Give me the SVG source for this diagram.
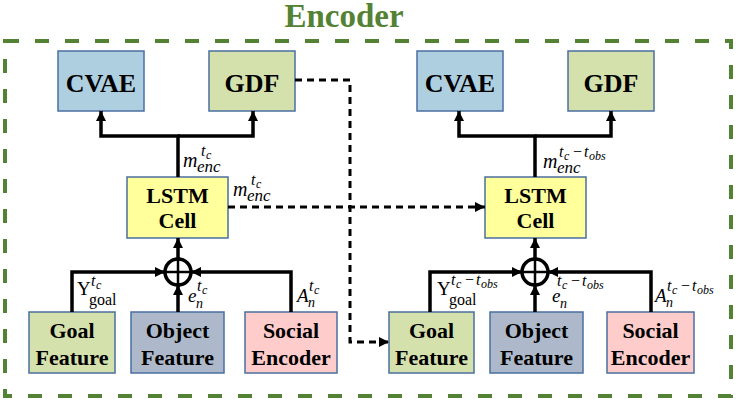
<svg xmlns="http://www.w3.org/2000/svg" width="738" height="400" viewBox="0 0 738 400">
<style>
.box{stroke:#4a6fa0;stroke-width:1.5}
.lbl{font-family:"Liberation Serif",serif;font-weight:bold;font-size:22px;fill:#000;text-anchor:middle}
.big{font-size:26px}
.conn{fill:none;stroke:#000;stroke-width:3.5}
.dash{fill:none;stroke:#000;stroke-width:3;stroke-dasharray:7 5}
.m{font-family:"Liberation Serif",serif;font-style:italic;fill:#000}
.up{font-style:normal}
</style>
<defs>
<marker id="ah" viewBox="0 0 10 10" refX="10" refY="5" markerWidth="10" markerHeight="10" markerUnits="userSpaceOnUse" orient="auto">
<path d="M0,0 L10,5 L0,10 z" fill="#000"/>
</marker>
</defs>
<rect width="738" height="400" fill="#fff"/>
<text x="344" y="27" font-family="Liberation Serif,serif" font-weight="bold" font-size="33" fill="#548235" text-anchor="middle">Encoder</text>
<rect x="5" y="41" width="726" height="355" fill="none" stroke="#548235" stroke-width="4" stroke-dasharray="14 16"/>

<g id="cvae1"><rect class="box" x="58" y="51" width="86" height="60" fill="#aecfe0"/><text class="lbl big" x="101" y="92">CVAE</text></g>
<g id="gdf1"><rect class="box" x="209" y="51" width="86" height="60" fill="#d5e1ad"/><text class="lbl big" x="252" y="92">GDF</text></g>
<g id="cvae2"><rect class="box" x="417" y="51" width="86" height="60" fill="#aecfe0"/><text class="lbl big" x="460" y="92">CVAE</text></g>
<g id="gdf2"><rect class="box" x="568" y="51" width="86" height="60" fill="#d5e1ad"/><text class="lbl big" x="611" y="92">GDF</text></g>

<g id="lstm1"><rect class="box" x="127" y="177" width="101" height="61" fill="#ffff9c"/><text class="lbl" x="177.5" y="203">LSTM</text><text class="lbl" x="177.5" y="228">Cell</text></g>
<g id="lstm2"><rect class="box" x="485" y="177" width="101" height="61" fill="#ffff9c"/><text class="lbl" x="535.5" y="203">LSTM</text><text class="lbl" x="535.5" y="228">Cell</text></g>

<g id="goal1"><rect class="box" x="29" y="312" width="86" height="61" fill="#d5e1ad"/><text class="lbl" x="72" y="338">Goal</text><text class="lbl" x="72" y="365">Feature</text></g>
<g id="obj1"><rect class="box" x="131" y="312" width="93" height="61" fill="#adb9ca"/><text class="lbl" x="177.5" y="338">Object</text><text class="lbl" x="177.5" y="365">Feature</text></g>
<g id="soc1"><rect class="box" x="245" y="312" width="92" height="61" fill="#ffcccc"/><text class="lbl" x="291" y="338">Social</text><text class="lbl" x="291" y="365">Encoder</text></g>

<g id="goal2"><rect class="box" x="389" y="312" width="85" height="61" fill="#d5e1ad"/><text class="lbl" x="431.5" y="338">Goal</text><text class="lbl" x="431.5" y="365">Feature</text></g>
<g id="obj2"><rect class="box" x="490" y="312" width="93" height="61" fill="#adb9ca"/><text class="lbl" x="536.5" y="338">Object</text><text class="lbl" x="536.5" y="365">Feature</text></g>
<g id="soc2"><rect class="box" x="607" y="312" width="87" height="61" fill="#ffcccc"/><text class="lbl" x="650.5" y="338">Social</text><text class="lbl" x="650.5" y="365">Encoder</text></g>

<g id="sum1"><circle cx="178" cy="272" r="13" fill="#fff" stroke="#000" stroke-width="3.5"/><path d="M165,272 H191 M178,259 V285" stroke="#000" stroke-width="2.5"/></g>
<g id="sum2"><circle cx="535" cy="272" r="13" fill="#fff" stroke="#000" stroke-width="3.5"/><path d="M522,272 H548 M535,259 V285" stroke="#000" stroke-width="2.5"/></g>

<g id="connectors">
<path class="conn" d="M178,177 V136 H101 V111" marker-end="url(#ah)"/>
<path class="conn" d="M178,136 H253 V111" marker-end="url(#ah)"/>
<path class="conn" d="M535,177 V136 H459 V111" marker-end="url(#ah)"/>
<path class="conn" d="M535,136 H611 V111" marker-end="url(#ah)"/>
<path class="conn" d="M178,259 V238" marker-end="url(#ah)"/>
<path class="conn" d="M535,259 V238" marker-end="url(#ah)"/>
<path class="conn" d="M72,312 V272 H165" marker-end="url(#ah)"/>
<path class="conn" d="M178,312 V285" marker-end="url(#ah)"/>
<path class="conn" d="M291,312 V272 H191" marker-end="url(#ah)"/>
<path class="conn" d="M430,312 V272 H522" marker-end="url(#ah)"/>
<path class="conn" d="M535,312 V285" marker-end="url(#ah)"/>
<path class="conn" d="M651,312 V272 H548" marker-end="url(#ah)"/>
<path class="dash" d="M228,207 H485" marker-end="url(#ah)"/>
<path class="dash" d="M295,80 H350 V342 H389" marker-end="url(#ah)"/>
</g>

<g id="labels">
<text class="m"><tspan x="183" y="167" font-size="20">m</tspan><tspan x="197" y="172" font-size="17">enc</tspan><tspan x="201" y="156" font-size="16">t</tspan><tspan x="206" y="159" font-size="12">c</tspan></text>
<text class="m"><tspan x="233" y="196" font-size="20">m</tspan><tspan x="247" y="201" font-size="17">enc</tspan><tspan x="251" y="185" font-size="16">t</tspan><tspan x="256" y="188" font-size="12">c</tspan></text>
<text class="m"><tspan x="543" y="168" font-size="20">m</tspan><tspan x="557" y="173" font-size="17">enc</tspan><tspan x="559" y="157" font-size="16">t</tspan><tspan x="564" y="160" font-size="12">c</tspan><tspan x="572" y="157" font-size="16">−</tspan><tspan x="584" y="157" font-size="16">t</tspan><tspan x="589" y="160" font-size="12">obs</tspan></text>

<text class="m"><tspan class="up" x="77" y="295" font-size="19">Y</tspan><tspan class="up" x="89" y="305" font-size="16">goal</tspan><tspan x="91" y="286" font-size="16">t</tspan><tspan x="96" y="289" font-size="12">c</tspan></text>
<text class="m"><tspan x="188" y="302" font-size="19">e</tspan><tspan x="196" y="308" font-size="14">n</tspan><tspan x="197" y="291" font-size="16">t</tspan><tspan x="202" y="294" font-size="12">c</tspan></text>
<text class="m"><tspan x="297" y="302" font-size="19">A</tspan><tspan x="308" y="307" font-size="14">n</tspan><tspan x="309" y="291" font-size="16">t</tspan><tspan x="314" y="294" font-size="12">c</tspan></text>

<text class="m"><tspan class="up" x="437" y="295" font-size="19">Y</tspan><tspan class="up" x="449" y="305" font-size="16">goal</tspan><tspan x="451" y="285" font-size="16">t</tspan><tspan x="456" y="288" font-size="12">c</tspan><tspan x="464" y="285" font-size="16">−</tspan><tspan x="476" y="285" font-size="16">t</tspan><tspan x="481" y="288" font-size="12">obs</tspan></text>
<text class="m"><tspan x="552" y="302" font-size="19">e</tspan><tspan x="560" y="308" font-size="14">n</tspan><tspan x="557" y="286" font-size="16">t</tspan><tspan x="562" y="289" font-size="12">c</tspan><tspan x="570" y="286" font-size="16">−</tspan><tspan x="582" y="286" font-size="16">t</tspan><tspan x="587" y="289" font-size="12">obs</tspan></text>
<text class="m"><tspan x="655" y="302" font-size="19">A</tspan><tspan x="666" y="307" font-size="14">n</tspan><tspan x="667" y="291" font-size="16">t</tspan><tspan x="672" y="294" font-size="12">c</tspan><tspan x="680" y="291" font-size="16">−</tspan><tspan x="692" y="291" font-size="16">t</tspan><tspan x="697" y="294" font-size="12">obs</tspan></text>
</g>
</svg>
